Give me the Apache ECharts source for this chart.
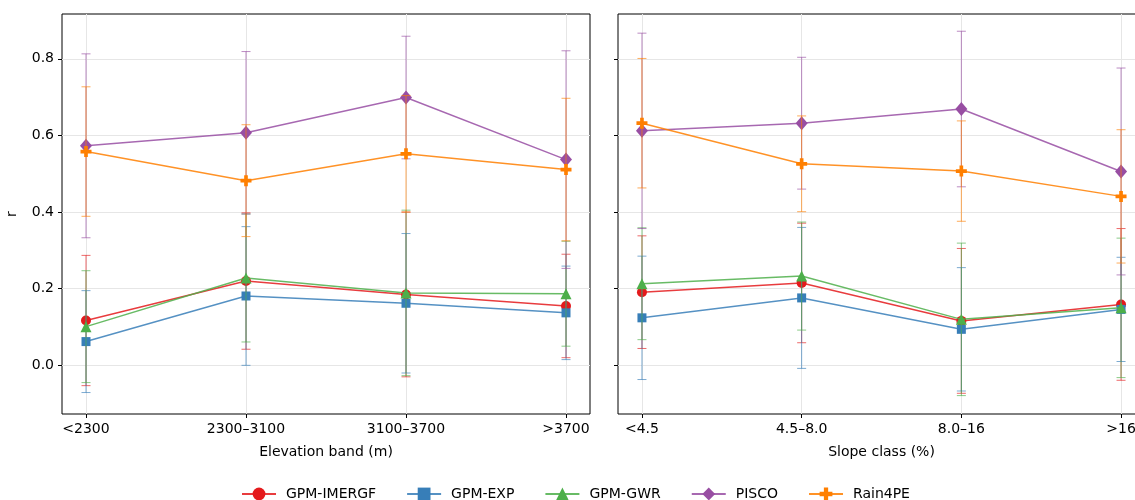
<!DOCTYPE html>
<html>
<head>
<meta charset="utf-8">
<script src="https://cdn.jsdelivr.net/npm/echarts@6/dist/echarts.min.js"></script>
<style>
  html, body { margin: 0; padding: 0; background: #fff; }
  #main { width: 1135px; height: 500px; }
</style>
</head>
<body>
<div id="main"></div>
<script>
// categories
var elevBands = ['<2300', '2300–3100', '3100–3700', '>3700'];
var slopeClasses = ['<4.5', '4.5–8.0', '8.0–16', '>16'];

var seriesNames = ['GPM-IMERGF', 'GPM-EXP', 'GPM-GWR', 'PISCO', 'Rain4PE'];
var seriesColors = ['#e41a1c', '#377eb8', '#4daf4a', '#984ea3', '#ff7f00'];

// mean r per elevation band
var elevImergf = [0.117, 0.220, 0.185, 0.155];
var elevExp    = [0.062, 0.181, 0.162, 0.137];
var elevGwr    = [0.101, 0.228, 0.189, 0.187];
var elevPisco  = [0.573, 0.607, 0.699, 0.537];
var elevRain   = [0.558, 0.482, 0.552, 0.511];
// standard deviation per elevation band
var elevImergfSd = [0.170, 0.178, 0.215, 0.135];
var elevExpSd    = [0.133, 0.181, 0.182, 0.122];
var elevGwrSd    = [0.146, 0.167, 0.216, 0.137];
var elevPiscoSd  = [0.240, 0.212, 0.160, 0.284];
var elevRainSd   = [0.169, 0.146, 0.152, 0.186];

// mean r per slope class
var slopeImergf = [0.191, 0.215, 0.116, 0.159];
var slopeExp    = [0.124, 0.176, 0.094, 0.146];
var slopeGwr    = [0.213, 0.233, 0.120, 0.150];
var slopePisco  = [0.612, 0.632, 0.669, 0.506];
var slopeRain   = [0.632, 0.526, 0.507, 0.441];
// standard deviation per slope class
var slopeImergfSd = [0.147, 0.156, 0.189, 0.198];
var slopeExpSd    = [0.161, 0.184, 0.161, 0.136];
var slopeGwrSd    = [0.146, 0.141, 0.199, 0.182];
var slopePiscoSd  = [0.255, 0.172, 0.203, 0.270];
var slopeRainSd   = [0.169, 0.125, 0.131, 0.174];

var yTicks = [0.0, 0.2, 0.4, 0.6, 0.8];
var xTicks = [0, 1, 2, 3];

var elevMeans = [elevImergf, elevExp, elevGwr, elevPisco, elevRain];
var elevSds = [elevImergfSd, elevExpSd, elevGwrSd, elevPiscoSd, elevRainSd];
var slopeMeans = [slopeImergf, slopeExp, slopeGwr, slopePisco, slopeRain];
var slopeSds = [slopeImergfSd, slopeExpSd, slopeGwrSd, slopePiscoSd, slopeRainSd];

var plusPath = 'path://M1,0H2V1H3V2H2V3H1V2H0V1H1Z';
var symbols = ['circle', 'rect', 'triangle', 'diamond', plusPath];
var symbolSizes = [10, 9, 11, [12, 14], 11];

var FONT = 'DejaVu Sans';

// 误差棒
function errRender(color) {
    return function (params, api) {
        var x = api.value(0);
        var lo = api.coord([x, api.value(1)]);
        var hi = api.coord([x, api.value(2)]);
        var cw = 4.5;
        var st = { stroke: color, lineWidth: 1, opacity: 0.65 };
        return {
            type: 'group',
            children: [
                { type: 'line', shape: { x1: lo[0], y1: lo[1], x2: hi[0], y2: hi[1] }, style: st },
                { type: 'line', shape: { x1: lo[0] - cw, y1: lo[1], x2: lo[0] + cw, y2: lo[1] }, style: st },
                { type: 'line', shape: { x1: hi[0] - cw, y1: hi[1], x2: hi[0] + cw, y2: hi[1] }, style: st }
            ]
        };
    };
}

function buildSeries(means, sds, idx) {
    var out = [];
    for (var i = 0; i < seriesNames.length; i++) {
        var errData = [], lineData = [];
        for (var k = 0; k < means[i].length; k++) {
            errData.push([k, means[i][k] - sds[i][k], means[i][k] + sds[i][k]]);
            lineData.push([k, means[i][k]]);
        }
        out.push({
            type: 'custom',
            name: seriesNames[i] + ' sd',
            xAxisIndex: idx,
            yAxisIndex: idx,
            silent: true,
            z: 2 + i * 2,
            encode: { x: 0, y: [1, 2] },
            renderItem: errRender(seriesColors[i]),
            data: errData
        });
        out.push({
            type: 'line',
            name: seriesNames[i],
            xAxisIndex: idx,
            yAxisIndex: idx,
            z: 3 + i * 2,
            symbol: symbols[i],
            symbolSize: symbolSizes[i],
            itemStyle: { color: seriesColors[i] },
            lineStyle: { color: seriesColors[i], width: 1.5, opacity: 0.85 },
            emphasis: { disabled: true },
            animation: false,
            data: lineData
        });
    }
    return out;
}

function xAxisOf(idx, cats, name) {
    return {
        type: 'value',
        gridIndex: idx,
        min: -0.15,
        max: 3.15,
        name: name,
        nameLocation: 'middle',
        nameGap: 31,
        nameTextStyle: { fontFamily: FONT, fontSize: 14, color: '#000' },
        axisLine: { show: false, onZero: false },
        axisTick: { show: true, length: 4, customValues: xTicks, lineStyle: { color: '#000' } },
        axisLabel: {
            customValues: xTicks,
            margin: 8,
            fontFamily: FONT, fontSize: 14, color: '#000',
            formatter: function (v) { return cats[Math.round(v)]; }
        },
        splitLine: { show: true, lineStyle: { color: '#e6e6e6', width: 1 } }
    };
}

function yAxisOf(idx, showLabels) {
    return {
        type: 'value',
        gridIndex: idx,
        min: -0.127,
        max: 0.917,
        name: showLabels ? 'r' : '',
        nameLocation: 'middle',
        nameGap: 43,
        nameTextStyle: { fontFamily: FONT, fontSize: 14, color: '#000' },
        axisLine: { show: false, onZero: false },
        axisTick: { show: true, length: 4, customValues: yTicks, lineStyle: { color: '#000' } },
        axisLabel: {
            show: showLabels,
            customValues: yTicks,
            margin: 8,
            fontFamily: FONT, fontSize: 14, color: '#000',
            formatter: function (v) { return v.toFixed(1); }
        },
        splitLine: { show: true, lineStyle: { color: '#e6e6e6', width: 1 } }
    };
}

var chart = echarts.init(document.getElementById('main'), null, { renderer: 'canvas' });

var option = {
    backgroundColor: '#fff',
    animation: false,
    grid: [
        { left: 62, width: 528, top: 14, bottom: 86, show: true, borderColor: '#000', borderWidth: 1,
          backgroundColor: 'transparent', outerBoundsMode: 'none', containLabel: false },
        { left: 618, width: 527, top: 14, bottom: 86, show: true, borderColor: '#000', borderWidth: 1,
          backgroundColor: 'transparent', outerBoundsMode: 'none', containLabel: false }
    ],
    xAxis: [
        xAxisOf(0, elevBands, 'Elevation band (m)'),
        xAxisOf(1, slopeClasses, 'Slope class (%)')
    ],
    yAxis: [yAxisOf(0, true), yAxisOf(1, false)],
    legend: {
        data: seriesNames,
        left: 236,
        top: 482,
        itemWidth: 34,
        itemHeight: 16,
        itemGap: 30,
        textStyle: { fontFamily: FONT, fontSize: 14, color: '#000', padding: [0, 0, 0, 5] }
    },
    series: buildSeries(elevMeans, elevSds, 0).concat(buildSeries(slopeMeans, slopeSds, 1))
};

chart.setOption(option);
</script>
</body>
</html>
